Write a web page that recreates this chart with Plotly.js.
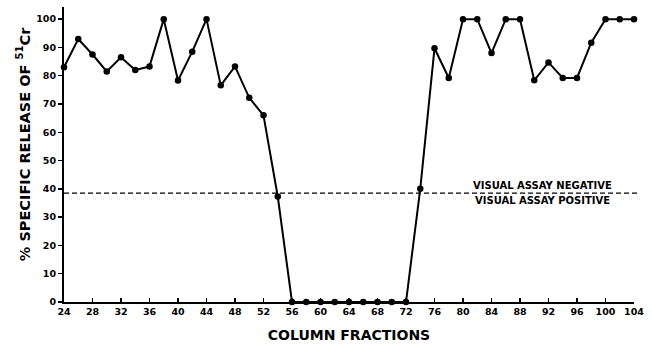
<!DOCTYPE html>
<html>
<head>
<meta charset="utf-8">
<script src="https://cdn.plot.ly/plotly-3.0.1.min.js"></script>
<style>html,body{margin:0;padding:0;background:#fff;}#chart{width:652px;height:346px;}</style>
</head>
<body>
<div id="chart"></div>
<script>
const fractions = [24,26,28,30,32,34,36,38,40,42,44,46,48,50,52,54,56,58,60,62,64,66,68,70,72,74,76,78,80,82,84,86,88,90,92,94,96,98,100,102,104];
const release = [83,93,87.5,81.5,86.5,82,83.3,100,78.3,88.5,100,76.6,83.3,72.2,66,37.3,0,0,0,0,0,0,0,0,0,40,89.7,79.2,100,100,88,100,100,78.4,84.7,79.2,79.2,91.7,100,100,100];
const xTicks = [24,28,32,36,40,44,48,52,56,60,64,68,72,76,80,84,88,92,96,100,104];
const yTicks = [0,10,20,30,40,50,60,70,80,90,100];
const threshold = 38.5;
const labelAbove = "VISUAL ASSAY NEGATIVE";
const labelBelow = "VISUAL ASSAY POSITIVE";
const xTitle = "COLUMN FRACTIONS";
const yTitle = "% SPECIFIC RELEASE OF <sup>51</sup>Cr";

const fontFam = "DejaVu Sans, Arial, sans-serif";
const trace = {
  x: fractions, y: release, type: "scatter", mode: "lines+markers",
  line: {color: "#000", width: 2},
  marker: {color: "#000", size: 6.5, symbol: "circle"},
  cliponaxis: false, showlegend: false, hoverinfo: "x+y"
};
const layout = {
  width: 652, height: 346,
  margin: {l: 64, r: 18, t: 7, b: 44, pad: 0},
  paper_bgcolor: "#fff", plot_bgcolor: "#fff",
  font: {family: fontFam, color: "#000", weight: "bold"},
  xaxis: {
    range: [24, 104], tickvals: xTicks, ticktext: xTicks.map(String),
    showgrid: false, zeroline: false, showline: true, linecolor: "#000", linewidth: 2,
    ticks: "inside", ticklen: 4, tickwidth: 1.5, tickcolor: "#000",
    tickfont: {family: fontFam, size: 9.5, color: "#000", weight: "bold"},
    title: {text: xTitle, font: {family: fontFam, size: 14, color: "#000", weight: "bold"}, standoff: 14}
  },
  yaxis: {
    range: [0, 104.3], tickvals: yTicks, ticktext: yTicks.map(String),
    showgrid: false, zeroline: false, showline: true, linecolor: "#000", linewidth: 2,
    ticks: "outside", ticklen: 4, tickwidth: 1.5, tickcolor: "#000",
    tickfont: {family: fontFam, size: 9.5, color: "#000", weight: "bold"}
  },
  shapes: [{
    type: "line", xref: "paper", yref: "y", x0: 0, x1: 1.0105, y0: threshold, y1: threshold,
    line: {color: "#000", width: 1.3, dash: "5px,3px"}
  }],
  annotations: [
    {xref: "x", yref: "y", x: 91.2, y: threshold, yshift: 8, text: labelAbove, showarrow: false,
     xanchor: "center", yanchor: "middle", font: {family: fontFam, size: 10, color: "#000", weight: "bold"}},
    {xref: "x", yref: "y", x: 91.2, y: threshold, yshift: -7, text: labelBelow, showarrow: false,
     xanchor: "center", yanchor: "middle", font: {family: fontFam, size: 10, color: "#000", weight: "bold"}},
    {xref: "paper", yref: "paper", x: -0.0714, y: 0.536, text: yTitle, textangle: -90, showarrow: false,
     xanchor: "center", yanchor: "middle", font: {family: fontFam, size: 14.5, color: "#000", weight: "bold"}}
  ]
};
Plotly.newPlot("chart", [trace], layout, {staticPlot: true, displayModeBar: false});
</script>
</body>
</html>
